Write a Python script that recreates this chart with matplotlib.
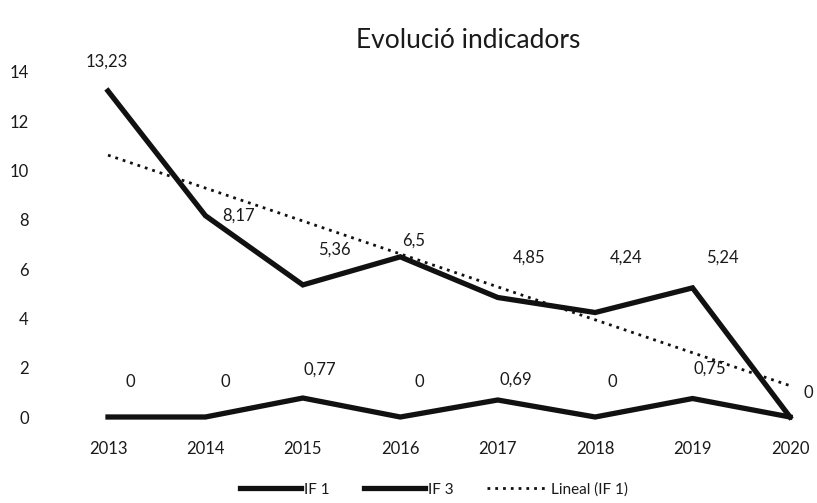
import matplotlib
matplotlib.use("Agg")
import matplotlib.pyplot as plt
import numpy as np

plt.rcParams['font.family'] = ['Lato', 'DejaVu Sans']

years = [2013, 2014, 2015, 2016, 2017, 2018, 2019, 2020]
if1 = [13.23, 8.17, 5.36, 6.5, 4.85, 4.24, 5.24, 0]
if3 = [0, 0, 0.77, 0, 0.69, 0, 0.75, 0]
if1_labels = ['13,23', '8,17', '5,36', '6,5', '4,85', '4,24', '5,24', '0']
if3_labels = ['0', '0', '0,77', '0', '0,69', '0', '0,75', '']
# label offsets in pixels (dx, dy) relative to each point
if1_offsets = [(-1, 29), (33, 0), (32, 35), (13, 16), (31, 40), (31, 55), (30, 30), (18, 24)]
if3_offsets = [(22, 35), (20, 35), (17, 28), (19, 35), (18, 20), (17, 35), (17, 30), (0, 0)]

text_color = '#1a1a1a'
fig = plt.figure(figsize=(8.17, 5.03), dpi=100)
ax = fig.add_axes([40 / 817, 86 / 503, 770 / 817, 345 / 503])

ax.plot(years, if1, color='#111111', lw=3.8, solid_joinstyle='miter', clip_on=False, label='IF 1', zorder=3)
ax.plot(years, if3, color='#111111', lw=3.8, solid_joinstyle='miter', clip_on=False, label='IF 3', zorder=3)

# linear trend of IF 1
x = np.arange(1, len(years) + 1)
slope, intercept = np.polyfit(x, if1, 1)
ax.plot(years, slope * x + intercept, color='#111111', lw=2.0, ls=(0, (1, 1.8)),
        clip_on=False, label='Lineal (IF 1)', zorder=2)

for yr, v, lab, off in zip(years, if1, if1_labels, if1_offsets):
    ax.annotate(lab, (yr, v), xytext=off, textcoords='offset pixels',
                ha='center', va='center', fontsize=12, color=text_color)
for yr, v, lab, off in zip(years, if3, if3_labels, if3_offsets):
    if lab:
        ax.annotate(lab, (yr, v), xytext=off, textcoords='offset pixels',
                    ha='center', va='center', fontsize=12, color=text_color)

ax.set_xlim(2013 - 68 / 97.43, 2020 + 20 / 97.43)
ax.set_ylim(0, 14)
ax.set_xticks(years)
ax.set_yticks(range(0, 15, 2))
ax.tick_params(axis='both', length=0, labelsize=12, colors=text_color)
ax.tick_params(axis='x', pad=17)
ax.tick_params(axis='y', pad=8)
for s in ax.spines.values():
    s.set_visible(False)

fig.text(468 / 817, 1 - 40 / 503, 'Evolució indicadors', ha='center', va='center',
         fontsize=19, color=text_color)

ax.legend(loc='center', bbox_to_anchor=(0.512, -0.21), ncol=3, frameon=False,
          fontsize=11, handlelength=4.0, handletextpad=0.2, columnspacing=2.2,
          labelcolor=text_color)

fig.savefig('out.png', dpi=100)
